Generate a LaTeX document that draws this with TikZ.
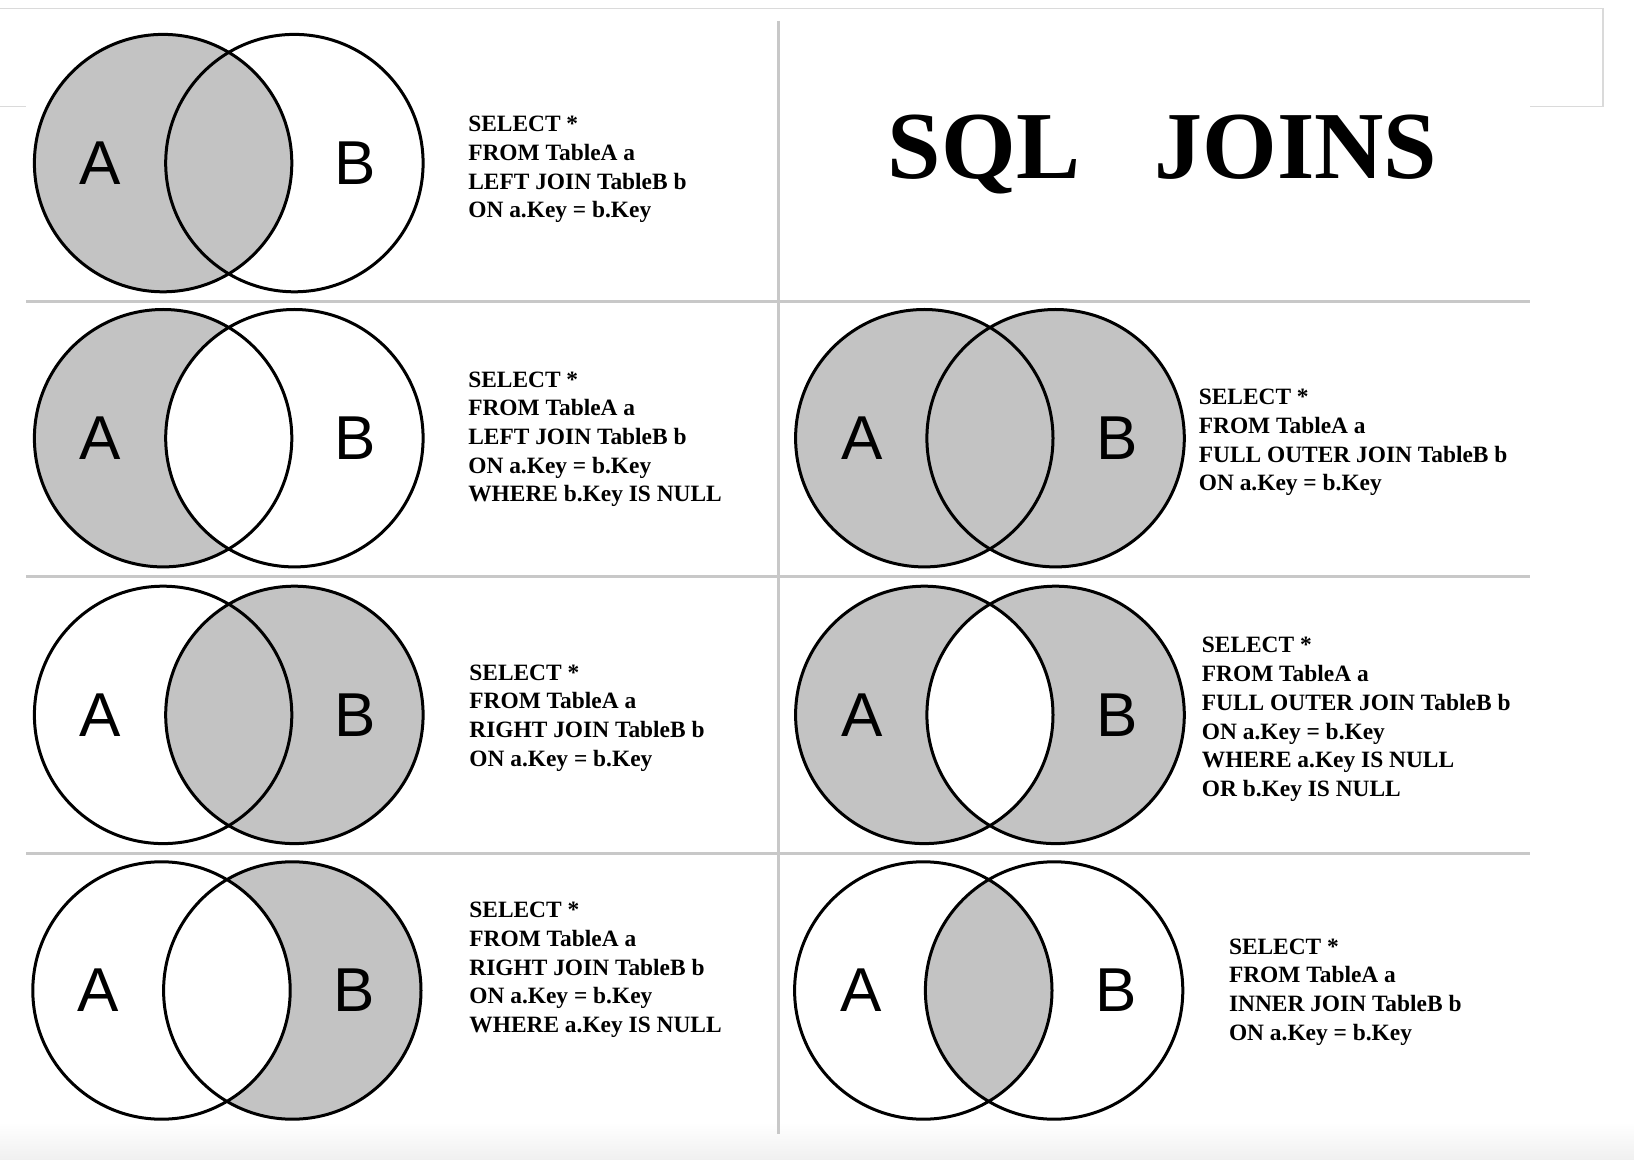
\documentclass[tikz,border=0pt]{standalone}
\usepackage{fontspec}
\setmainfont{Liberation Serif}
\newfontfamily\lblfont{Liberation Sans}
\definecolor{venn}{HTML}{C3C3C3}
\definecolor{sepc}{HTML}{C8C8C8}
\definecolor{framec}{HTML}{DADADA}
\tikzset{
  ring/.style={draw=black, line width=1.5pt},
  sqltext/.style={anchor=base west, align=left, inner sep=0pt,
    font=\bfseries\fontsize{11.7}{14.35}\selectfont},
  lbl/.style={font=\lblfont\fontsize{31}{31}\selectfont, inner sep=0pt},
  sepline/.style={draw=sepc, line width=1.5pt},
  frameline/.style={draw=framec, line width=0.75pt},
  titletext/.style={anchor=base, inner sep=0pt,
    font=\bfseries\fontsize{48}{48}\selectfont},
}
\def\R{128.7}
\begin{document}
\begin{tikzpicture}[x=0.5pt,y=-0.5pt]
\useasboundingbox[fill=white] (0,0) rectangle (1634,1160);
% bottom shadow
\shade[top color=white, bottom color=black!6] (0,1122) rectangle (1634,1160);
% outer frame
\draw[frameline] (0,8.3) -- (1602.8,8.3) -- (1602.8,106.3) -- (1529.8,106.3);
\draw[frameline] (0,106.3) -- (26,106.3);
% separators
\draw[sepline] (778.5,20.8) -- (778.5,1134);
\draw[sepline] (26,301.2) -- (1529.8,301.2);
\draw[sepline] (26,576.3) -- (1529.8,576.3);
\draw[sepline] (26,853.5) -- (1529.8,853.5);

% ---- Row 1 left: LEFT JOIN
\fill[venn] (163.1,163.1) circle[radius=\R];
\draw[ring] (163.1,163.1) circle[radius=\R] (294.4,163.1) circle[radius=\R];
\node[lbl] (a1) at (100,163.1) {A};
\node[lbl] (b1) at (355.4,163.1) {B};
\node[sqltext] (q1) at (467.9,217.9) {SELECT *\\FROM TableA a\\LEFT JOIN TableB b\\ON a.Key = b.Key};

% ---- Row 2 left: LEFT JOIN excl
\fill[venn] (163.1,438.2) circle[radius=\R];
\fill[white] (294.4,438.2) circle[radius=\R];
\draw[ring] (163.1,438.2) circle[radius=\R] (294.4,438.2) circle[radius=\R];
\node[lbl] (a2) at (100,438.2) {A};
\node[lbl] (b2) at (355.4,438.2) {B};
\node[sqltext] (q2) at (467.9,501.9) {SELECT *\\FROM TableA a\\LEFT JOIN TableB b\\ON a.Key = b.Key\\WHERE b.Key IS NULL};

% ---- Row 3 left: RIGHT JOIN
\fill[venn] (294.4,714.9) circle[radius=\R];
\draw[ring] (163.1,714.9) circle[radius=\R] (294.4,714.9) circle[radius=\R];
\node[lbl] (a3) at (100,714.9) {A};
\node[lbl] (b3) at (355.4,714.9) {B};
\node[sqltext] (q3) at (469,766.1) {SELECT *\\FROM TableA a\\RIGHT JOIN TableB b\\ON a.Key = b.Key};

% ---- Row 4 left: RIGHT JOIN excl
\fill[venn] (292.3,990.5) circle[radius=\R];
\fill[white] (161.5,990.5) circle[radius=\R];
\draw[ring] (161.5,990.5) circle[radius=\R] (292.3,990.5) circle[radius=\R];
\node[lbl] (a4) at (98,990.5) {A};
\node[lbl] (b4) at (354.3,990.5) {B};
\node[sqltext] (q4) at (469,1032.4) {SELECT *\\FROM TableA a\\RIGHT JOIN TableB b\\ON a.Key = b.Key\\WHERE a.Key IS NULL};

% ---- Title
\node[titletext] (t1) at (984,179) {SQL};
\node[titletext] (t2) at (1296,179) {JOINS};

% ---- Row 2 right: FULL OUTER
\fill[venn] (924.3,438.2) circle[radius=\R] (1055.6,438.2) circle[radius=\R];
\draw[ring] (924.3,438.2) circle[radius=\R] (1055.6,438.2) circle[radius=\R];
\node[lbl] (a5) at (861.8,438.2) {A};
\node[lbl] (b5) at (1117,438.2) {B};
\node[sqltext] (q5) at (1198.4,491) {SELECT *\\FROM TableA a\\FULL OUTER JOIN TableB b\\ON a.Key = b.Key};

% ---- Row 3 right: FULL OUTER excl
\fill[venn, even odd rule] (924.3,714.9) circle[radius=\R] (1055.6,714.9) circle[radius=\R];
\draw[ring] (924.3,714.9) circle[radius=\R] (1055.6,714.9) circle[radius=\R];
\node[lbl] (a6) at (861.8,714.9) {A};
\node[lbl] (b6) at (1117,714.9) {B};
\node[sqltext] (q6) at (1201.5,796.4) {SELECT *\\FROM TableA a\\FULL OUTER JOIN TableB b\\ON a.Key = b.Key\\WHERE a.Key IS NULL\\OR b.Key IS NULL};

% ---- Row 4 right: INNER
\begin{scope}
  \clip (923.3,990.5) circle[radius=\R];
  \fill[venn] (1054.1,990.5) circle[radius=\R];
\end{scope}
\draw[ring] (923.3,990.5) circle[radius=\R] (1054.1,990.5) circle[radius=\R];
\node[lbl] (a7) at (860.8,990.5) {A};
\node[lbl] (b7) at (1116,990.5) {B};
\node[sqltext] (q7) at (1228.6,1040.2) {SELECT *\\FROM TableA a\\INNER JOIN TableB b\\ON a.Key = b.Key};
\end{tikzpicture}
\end{document}
